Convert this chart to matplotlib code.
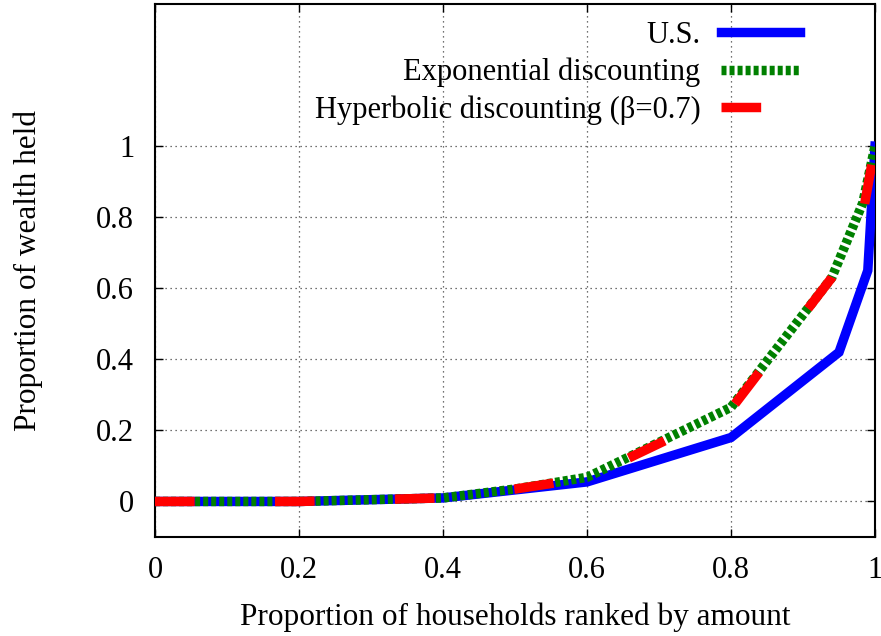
import matplotlib.pyplot as plt
import numpy as np

plt.rcParams['font.family'] = ['Liberation Serif', 'DejaVu Serif']

# Lorenz curves
us_x = [0.0, 0.2, 0.4, 0.6, 0.8, 0.95, 0.99, 1.0]
us_y = [0.0, 0.0, 0.01, 0.055, 0.18, 0.42, 0.65, 1.0]

exp_x = [0.0, 0.2, 0.4, 0.5, 0.6, 0.8, 0.94, 0.983, 1.0]
exp_y = [0.0, 0.0, 0.01, 0.035, 0.068, 0.265, 0.63, 0.84, 1.0]

hyp_x = [0.0, 0.2, 0.4, 0.5, 0.6, 0.8, 0.94, 0.985, 1.0]
hyp_y = [0.0, 0.0, 0.01, 0.035, 0.066, 0.26, 0.63, 0.83, 1.0]

xticks = [0, 0.2, 0.4, 0.6, 0.8, 1]
yticks = [0, 0.2, 0.4, 0.6, 0.8, 1]
ticklabels = ['0', '0.2', '0.4', '0.6', '0.8', '1']

fig = plt.figure(figsize=(8.81, 6.36), dpi=100)
ax = fig.add_axes([155/881, 1 - 537/636, 720/881, 533/636])

lw = 6.8
ax.plot(us_x, us_y, color='#0000ff', lw=lw, label='U.S.', zorder=3,
        solid_joinstyle='miter')
ax.plot(exp_x, exp_y, color='#008000', lw=lw, dashes=(0.53, 0.32),
        label='Exponential discounting', zorder=4)
ax.plot(hyp_x, hyp_y, color='#ff0000', lw=lw, dashes=(4.2, 8.5),
        label='Hyperbolic discounting (β=0.7)', zorder=5)

ax.set_xlim(0, 1)
ax.set_ylim(-0.1, 1.4)
ax.set_xticks(xticks)
ax.set_xticklabels(ticklabels)
ax.set_yticks(yticks)
ax.set_yticklabels(ticklabels)
ax.tick_params(direction='in', top=True, right=True, length=6, width=1,
               labelsize=22)
ax.tick_params(axis='x', pad=14)
ax.tick_params(axis='y', pad=15)
ax.grid(True, color='#444444', linestyle=(0, (1, 3)), lw=0.9)
for s in ax.spines.values():
    s.set_linewidth(1.5)

ax.set_xlabel('Proportion of households ranked by amount', fontsize=22.5, labelpad=12)
ax.set_ylabel('Proportion of wealth held', fontsize=22.5, labelpad=38)

leg = ax.legend(loc='upper right', markerfirst=False, frameon=False, fontsize=22,
                handlelength=2.6, handletextpad=0.65, labelspacing=0.26,
                borderpad=0, borderaxespad=0,
                bbox_to_anchor=(800/881, 1 - 21/636), bbox_transform=fig.transFigure)

fig.savefig('out.png', dpi=100)
